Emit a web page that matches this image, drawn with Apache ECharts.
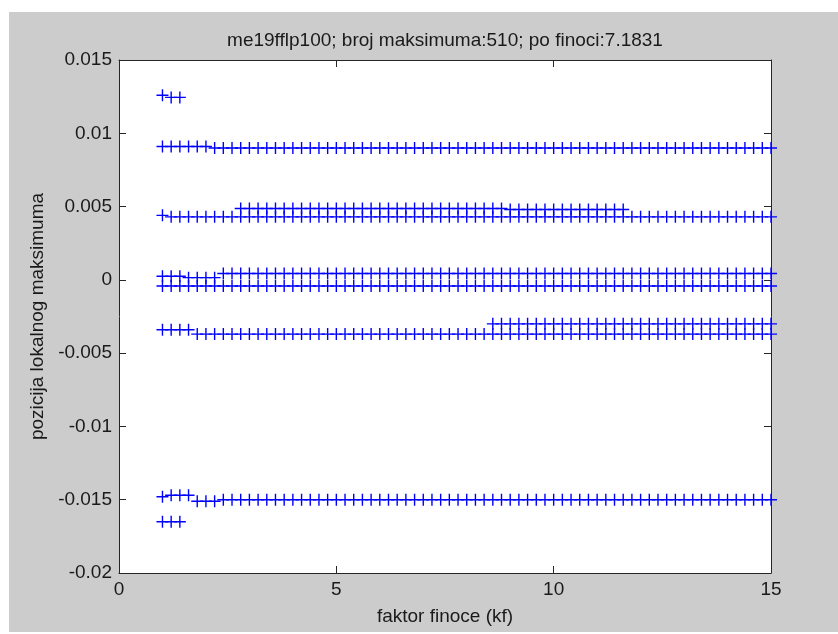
<!DOCTYPE html>
<html>
<head>
<meta charset="utf-8">
<script src="https://cdn.jsdelivr.net/npm/echarts@6/dist/echarts.min.js"></script>
<style>
html, body { margin: 0; padding: 0; background: #ffffff; }
#bg { position: absolute; left: 9px; top: 12px; width: 829px; height: 620px; background: #cccccc; }
#chart { position: absolute; left: 0; top: 0; width: 838px; height: 634px; }
</style>
</head>
<body>
<div id="bg"></div>
<div id="chart"></div>
<script>
// ---- data ----
const titleText = 'me19fflp100; broj maksimuma:510; po finoci:7.1831';
const xName = 'faktor finoce (kf)';
const yName = 'pozicija lokalnog maksimuma';

// faktor finoce sample grid
const kf = [1, 1.2, 1.4, 1.6, 1.8, 2, 2.2, 2.4, 2.6, 2.8, 3, 3.2, 3.4, 3.6, 3.8, 4, 4.2, 4.4, 4.6, 4.8,
            5, 5.2, 5.4, 5.6, 5.8, 6, 6.2, 6.4, 6.6, 6.8, 7, 7.2, 7.4, 7.6, 7.8, 8, 8.2, 8.4, 8.6, 8.8,
            9, 9.2, 9.4, 9.6, 9.8, 10, 10.2, 10.4, 10.6, 10.8, 11, 11.2, 11.4, 11.6, 11.8, 12, 12.2, 12.4, 12.6, 12.8,
            13, 13.2, 13.4, 13.6, 13.8, 14, 14.2, 14.4, 14.6, 14.8, 15];

// each maximum track: [kf from, kf to, position]
const track1 = [[1, 1, 0.0126], [1.2, 1.4, 0.01245]];
const track2 = [[1, 2, 0.0091], [2.2, 15, 0.0090]];
const track3 = [[2.8, 8.8, 0.00487], [9, 11.6, 0.0048]];
const track4 = [[1, 1, 0.0044], [1.2, 15, 0.0043]];
const track5 = [[1, 1.4, 0.00025], [1.6, 2.2, 0.00015], [2.4, 15, 0.00043]];
const track6 = [[1, 15, -0.00042]];
const track7 = [[8.6, 15, -0.0030]];
const track8 = [[1, 1.6, -0.0034], [1.8, 15, -0.0037]];
const track9 = [[1, 1, -0.0148], [1.2, 1.6, -0.0147], [1.8, 2.2, -0.0151], [2.4, 15, -0.0150]];
const track10 = [[1, 1.4, -0.0165]];

const xTicks = [0, 5, 10, 15];
const yTicks = [-0.02, -0.015, -0.01, -0.005, 0, 0.005, 0.01, 0.015];
const yTickLabels = ['-0.02', '-0.015', '-0.01', '-0.005', '0', '0.005', '0.01', '0.015'];

// ---- build points ----
const tracks = [track1, track2, track3, track4, track5, track6, track7, track8, track9, track10];
const points = [];
tracks.forEach(tr => {
  tr.forEach(seg => {
    kf.forEach(x => {
      if (x >= seg[0] - 1e-9 && x <= seg[1] + 1e-9) points.push([x, seg[2]]);
    });
  });
});

const FONT = "'Liberation Sans', Arial, Helvetica, sans-serif";
const TXT = '#1a1a1a';
const AX = '#262626';

function yFmt(v) {
  let best = 0, bd = Infinity;
  yTicks.forEach((t, i) => { const d = Math.abs(t - v); if (d < bd) { bd = d; best = i; } });
  return yTickLabels[best];
}

const xCommon = { type: 'value', min: xTicks[0], max: xTicks[xTicks.length - 1], interval: 5,
  splitLine: { show: false }, axisLine: { show: true, onZero: false, lineStyle: { color: AX, width: 1 } },
  axisTick: { show: true, inside: true, length: 7, lineStyle: { color: AX } } };
const yCommon = { type: 'value', min: yTicks[0], max: yTicks[yTicks.length - 1], interval: 0.005,
  splitLine: { show: false }, axisLine: { show: true, onZero: false, lineStyle: { color: AX, width: 1 } },
  axisTick: { show: true, inside: true, length: 7, lineStyle: { color: AX } } };

const chart = echarts.init(document.getElementById('chart'), null, { renderer: 'canvas' });
chart.setOption({
  backgroundColor: 'transparent',
  animation: false,
  title: {
    text: titleText, left: 440, top: 26, textAlign: 'center',
    textStyle: { fontFamily: FONT, fontSize: 19, fontWeight: 'normal', color: TXT }
  },
  grid: { left: 119, top: 60, width: 652, height: 513, show: true, backgroundColor: '#ffffff',
          borderWidth: 0, containLabel: false, outerBoundsMode: 'none' },
  xAxis: [
    Object.assign({}, xCommon, { position: 'bottom',
      axisLabel: { show: true, margin: 7, fontFamily: FONT, fontSize: 19, color: TXT },
      name: xName, nameLocation: 'middle', nameGap: 34,
      nameTextStyle: { fontFamily: FONT, fontSize: 19, color: TXT } }),
    Object.assign({}, xCommon, { position: 'top', axisLabel: { show: false } })
  ],
  yAxis: [
    Object.assign({}, yCommon, { position: 'left',
      axisLabel: { show: true, margin: 7, fontFamily: FONT, fontSize: 19, color: TXT, formatter: yFmt },
      name: yName, nameLocation: 'middle', nameGap: 66, nameRotate: 90,
      nameTextStyle: { fontFamily: FONT, fontSize: 19, color: TXT } }),
    Object.assign({}, yCommon, { position: 'right', axisLabel: { show: false } })
  ],
  series: [{
    type: 'scatter',
    xAxisIndex: 0, yAxisIndex: 0,
    clip: false,
    symbol: 'path://M0,5.3H12V6.7H0Z M5.3,0H6.7V12H5.3Z',
    symbolSize: 12,
    itemStyle: { color: '#0000ff', opacity: 1 },
    emphasis: { disabled: true },
    data: points
  }]
});
</script>
</body>
</html>
